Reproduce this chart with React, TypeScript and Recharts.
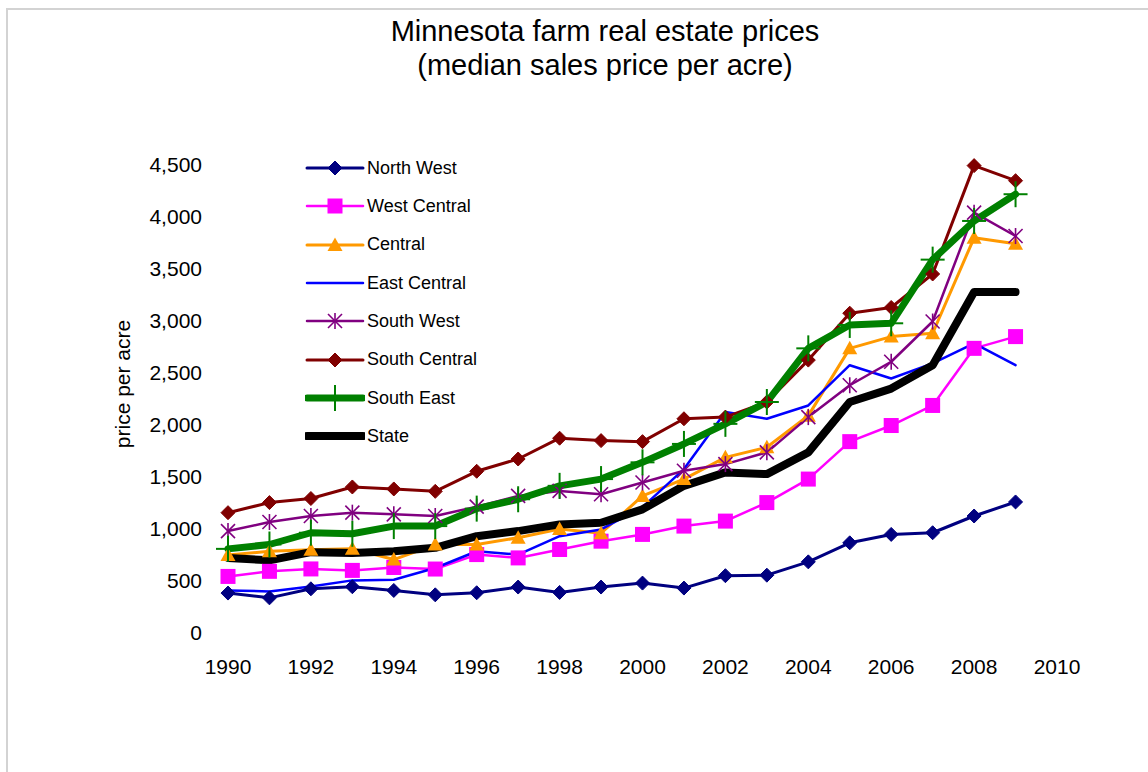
import React from 'react';
import { LineChart, Line, XAxis, YAxis, Legend } from 'recharts';

const years = [1990, 1991, 1992, 1993, 1994, 1995, 1996, 1997, 1998, 1999, 2000, 2001, 2002, 2003, 2004, 2005, 2006, 2007, 2008, 2009];
const northWest = [384, 338, 425, 445, 409, 367, 387, 442, 390, 442, 480, 432, 551, 556, 684, 867, 948, 964, 1125, 1260];
const westCentral = [544, 593, 616, 602, 630, 615, 754, 722, 803, 883, 948, 1028, 1076, 1254, 1480, 1840, 1995, 2188, 2737, 2850];
const central = [750, 786, 800, 810, 706, 851, 851, 916, 1000, 960, 1318, 1480, 1689, 1786, 2090, 2737, 2850, 2882, 3800, 3742];
const eastCentral = [409, 400, 448, 506, 512, 625, 786, 754, 931, 996, 1210, 1576, 2124, 2060, 2188, 2575, 2447, 2592, 2785, 2575];
const southWest = [980, 1067, 1125, 1157, 1141, 1125, 1215, 1318, 1366, 1334, 1447, 1560, 1624, 1737, 2076, 2382, 2608, 2995, 4042, 3817];
const southCentral = [1157, 1254, 1293, 1404, 1385, 1362, 1555, 1673, 1873, 1850, 1840, 2060, 2076, 2221, 2624, 3075, 3130, 3452, 4494, 4349];
const southEast = [809, 851, 964, 954, 1028, 1028, 1196, 1286, 1415, 1480, 1641, 1818, 2011, 2221, 2737, 2962, 2978, 3590, 3962, 4219];
const state = [722, 699, 777, 770, 786, 819, 931, 980, 1044, 1060, 1189, 1415, 1544, 1528, 1737, 2221, 2350, 2575, 3278, 3278];

const xTicks = [1990, 1992, 1994, 1996, 1998, 2000, 2002, 2004, 2006, 2008, 2010];
const yTicks = [0, 500, 1000, 1500, 2000, 2500, 3000, 3500, 4000, 4500];

const data = years.map((year, i) => ({
  year,
  nw: northWest[i],
  wc: westCentral[i],
  c: central[i],
  ec: eastCentral[i],
  sw: southWest[i],
  sc: southCentral[i],
  se: southEast[i],
  st: state[i],
}));

type MarkerType = 'diamond' | 'square' | 'triangle' | 'star' | 'plus' | 'none';
const series: { key: string; name: string; color: string; width: number; marker: MarkerType }[] = [
  { key: 'nw', name: 'North West', color: '#000080', width: 3, marker: 'diamond' },
  { key: 'wc', name: 'West Central', color: '#FF00FF', width: 2.5, marker: 'square' },
  { key: 'c', name: 'Central', color: '#FF9900', width: 3, marker: 'triangle' },
  { key: 'ec', name: 'East Central', color: '#0000FF', width: 2.5, marker: 'none' },
  { key: 'sw', name: 'South West', color: '#800080', width: 2.5, marker: 'star' },
  { key: 'sc', name: 'South Central', color: '#800000', width: 3, marker: 'diamond' },
  { key: 'se', name: 'South East', color: '#008000', width: 7, marker: 'plus' },
  { key: 'st', name: 'State', color: '#000000', width: 8, marker: 'none' },
];

const FONT = "'Liberation Sans', Arial, sans-serif";

function Marker({ type, cx, cy, color }: { type: MarkerType; cx: number; cy: number; color: string }) {
  switch (type) {
    case 'diamond': {
      const r = 7;
      return <polygon points={`${cx},${cy - r} ${cx + r},${cy} ${cx},${cy + r} ${cx - r},${cy}`} fill={color} stroke={color} strokeWidth={1} />;
    }
    case 'square':
      return <rect x={cx - 7.5} y={cy - 7.5} width={15} height={15} fill={color} />;
    case 'triangle':
      return <polygon points={`${cx},${cy - 7.5} ${cx + 7.5},${cy + 6} ${cx - 7.5},${cy + 6}`} fill={color} />;
    case 'star': {
      const r = 7;
      return (
        <g stroke={color} strokeWidth={1.6}>
          <line x1={cx - r} y1={cy - r} x2={cx + r} y2={cy + r} />
          <line x1={cx - r} y1={cy + r} x2={cx + r} y2={cy - r} />
          <line x1={cx} y1={cy - r - 1} x2={cx} y2={cy + r + 1} />
        </g>
      );
    }
    case 'plus': {
      const r = 12;
      return (
        <g stroke={color} strokeWidth={2}>
          <line x1={cx - r} y1={cy} x2={cx + r} y2={cy} />
          <line x1={cx} y1={cy - r - 1} x2={cx} y2={cy + r + 1} />
        </g>
      );
    }
    default:
      return null;
  }
}

const makeDot = (s: (typeof series)[number]) => (props: any) => {
  const { cx, cy, index } = props;
  if (cx == null || cy == null) return <g key={`${s.key}-${index}`} />;
  return (
    <g key={`${s.key}-${index}`}>
      <Marker type={s.marker} cx={cx} cy={cy} color={s.color} />
    </g>
  );
};

const LegendContent = () => (
  <div style={{ fontFamily: FONT, fontSize: 18, color: '#000' }}>
    {series.map((s) => (
      <div key={s.key} style={{ display: 'flex', alignItems: 'center', height: 38.33 }}>
        <svg width={60} height={38} style={{ display: 'block' }}>
          <line x1={2} y1={19} x2={58} y2={19} stroke={s.color} strokeWidth={s.width} strokeLinecap="round" />
          <Marker type={s.marker} cx={30} cy={19} color={s.color} />
        </svg>
        <span style={{ marginLeft: 2, whiteSpace: 'nowrap' }}>{s.name}</span>
      </div>
    ))}
  </div>
);

export default function App() {
  return (
    <div style={{ position: 'absolute', left: 0, top: 0, width: 1148, height: 772, overflow: 'hidden', background: '#fff' }}>
      <div style={{ position: 'absolute', left: 6, top: 8, width: 1200, height: 820, border: '2px solid #d3d3d3', boxSizing: 'border-box' }} />
      <div style={{ position: 'absolute', left: 305, top: 14, width: 600, textAlign: 'center', fontFamily: FONT, fontSize: 29, lineHeight: '34px', color: '#000' }}>
        Minnesota farm real estate prices
      </div>
      <div style={{ position: 'absolute', left: 305, top: 48, width: 600, textAlign: 'center', fontFamily: FONT, fontSize: 29, lineHeight: '34px', color: '#000' }}>
        (median sales price per acre)
      </div>
      <div
        style={{
          position: 'absolute',
          left: 123,
          top: 384,
          transform: 'translate(-50%, -50%) rotate(-90deg)',
          fontFamily: FONT,
          fontSize: 21,
          whiteSpace: 'nowrap',
          color: '#000',
        }}
      >
        price per acre
      </div>
      <div style={{ position: 'absolute', left: 0, top: 0 }}>
        <LineChart width={1148} height={772} data={data} margin={{ top: 165, right: 91, left: 0, bottom: 99 }}>
          <XAxis
            dataKey="year"
            type="number"
            domain={[1990, 2010]}
            ticks={xTicks}
            axisLine={false}
            tickLine={false}
            tickSize={6}
            tickMargin={20}
            height={40}
            tick={{ fill: '#000', fontSize: 21, fontFamily: FONT }}
            interval={0}
          />
          <YAxis
            type="number"
            domain={[0, 4500]}
            ticks={yTicks}
            axisLine={false}
            tickLine={false}
            tickSize={6}
            tickMargin={20}
            width={228}
            tick={{ fill: '#000', fontSize: 21, fontFamily: FONT }}
            tickFormatter={(v: number) => v.toLocaleString('en-US')}
            interval={0}
          />
          <Legend
            layout="vertical"
            align="center"
            verticalAlign="middle"
            content={LegendContent}
            wrapperStyle={{ left: 305, top: 149, width: 240, height: 310 }}
          />
          {series.map((s) => (
            <Line
              key={s.key}
              type="linear"
              dataKey={s.key}
              name={s.name}
              stroke={s.color}
              strokeWidth={s.width}
              strokeLinejoin="round"
              strokeLinecap="round"
              dot={s.marker === 'none' ? false : makeDot(s)}
              activeDot={false}
              isAnimationActive={false}
            />
          ))}
        </LineChart>
      </div>
    </div>
  );
}
